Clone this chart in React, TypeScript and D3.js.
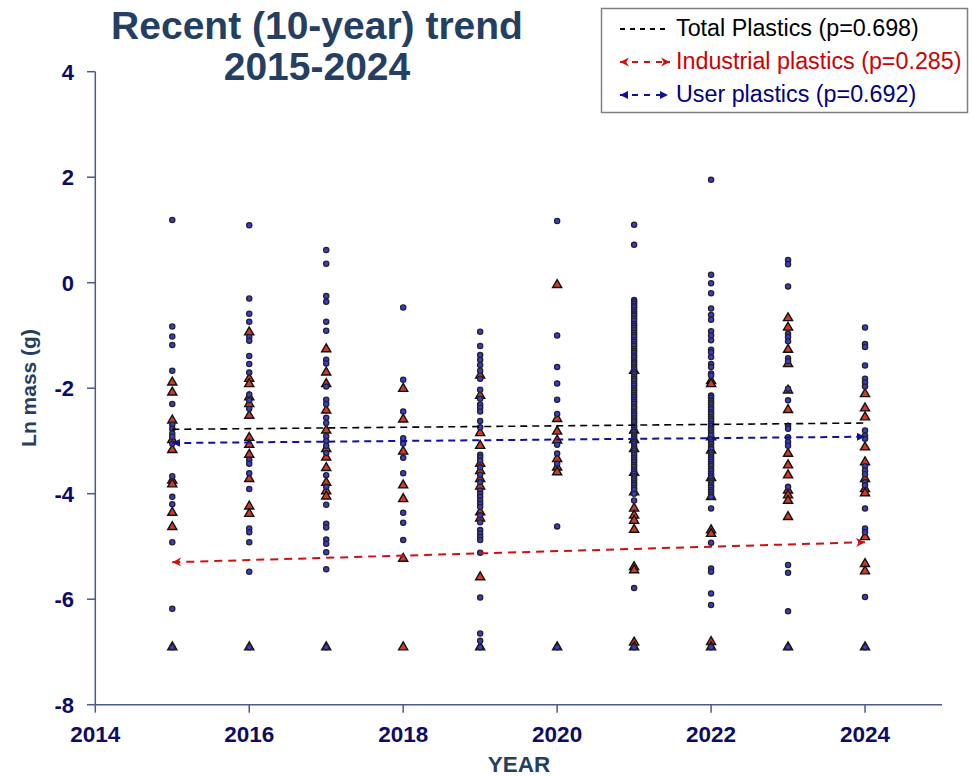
import React from "react";
import * as d3 from "d3";

const years = [2015, 2016, 2017, 2018, 2019, 2020, 2021, 2022, 2023, 2024];

const user2015 = [1.19, -0.83, -1.02, -1.18, -1.67, -2.3, -2.69, -2.77, -2.86, -2.92, -3.05, -3.67, -4.06, -4.2, -4.92, -6.18, -6.91];
const user2016 = [1.09, -0.3, -0.59, -0.74, -1.03, -1.1, -1.39, -1.54, -1.7, -2.12, -2.23, -2.39, -3.36, -3.43, -3.61, -3.91, -4.66, -4.73, -4.92, -5.48, -6.91];
const user2017 = [0.62, 0.36, -0.25, -0.36, -0.74, -0.91, -1.46, -1.53, -1.97, -2.22, -2.3, -2.56, -2.66, -2.91, -3.0, -3.09, -3.23, -3.65, -3.87, -4.21, -4.57, -4.64, -4.87, -4.95, -5.11, -5.43, -6.91];
const user2018 = [-0.47, -1.84, -2.44, -2.95, -3.05, -3.32, -3.61, -4.36, -4.55, -4.88];
const user2019 = [-0.93, -1.2, -1.37, -1.46, -1.56, -1.67, -1.82, -2.03, -2.2, -2.31, -2.37, -2.44, -2.62, -2.74, -3.26, -3.31, -3.37, -3.5, -3.64, -3.78, -3.94, -4.0, -4.06, -4.13, -4.19, -4.25, -4.41, -4.54, -4.69, -4.76, -4.82, -4.88, -5.12, -5.97, -6.65, -6.79, -6.91];
const user2020 = [1.17, -1.0, -1.6, -1.91, -2.22, -2.49, -3.07, -3.24, -3.43, -4.62, -6.91];
const user2021 = [1.1, 0.72, -0.33, -0.36, -0.4, -0.44, -0.47, -0.52, -0.56, -0.6, -0.63, -0.68, -0.72, -0.78, -0.82, -0.86, -0.9, -0.95, -0.99, -1.03, -1.08, -1.12, -1.16, -1.2, -1.25, -1.29, -1.33, -1.38, -1.42, -1.47, -1.51, -1.55, -1.6, -1.64, -1.69, -1.73, -1.78, -1.82, -1.86, -1.91, -1.95, -2.0, -2.04, -2.08, -2.13, -2.17, -2.22, -2.26, -2.3, -2.35, -2.39, -2.44, -2.48, -2.52, -2.57, -2.61, -2.65, -2.7, -2.74, -2.79, -2.83, -2.88, -2.92, -2.96, -3.01, -3.05, -3.1, -3.14, -3.18, -3.23, -3.27, -3.32, -3.36, -3.4, -3.45, -3.49, -3.54, -3.58, -3.62, -3.67, -3.71, -3.76, -3.8, -3.84, -3.89, -3.93, -4.0, -4.13, -5.79, -6.91];
const user2022 = [1.95, 0.15, -0.01, -0.2, -0.49, -0.61, -0.7, -0.92, -1.0, -1.09, -1.27, -1.32, -1.41, -1.54, -1.6, -1.72, -1.76, -2.14, -2.18, -2.23, -2.27, -2.31, -2.36, -2.4, -2.45, -2.49, -2.54, -2.58, -2.62, -2.67, -2.71, -2.76, -2.8, -2.85, -2.89, -2.97, -3.02, -3.06, -3.11, -3.15, -3.22, -3.26, -3.31, -3.35, -3.4, -3.44, -3.48, -3.53, -3.57, -3.62, -3.66, -3.7, -3.75, -3.79, -3.84, -3.88, -3.93, -3.97, -4.02, -4.06, -4.28, -4.93, -5.42, -5.48, -5.89, -6.11, -6.91];
const user2023 = [0.43, 0.35, -0.07, -0.97, -1.03, -1.11, -1.43, -1.49, -2.01, -2.23, -2.71, -2.77, -2.93, -3.02, -3.09, -3.87, -5.35, -5.5, -6.23, -6.91];
const user2024 = [-0.85, -1.16, -1.22, -1.57, -1.82, -1.89, -1.97, -2.8, -2.9, -2.96, -3.48, -3.56, -3.63, -3.78, -3.84, -4.28, -4.66, -4.73, -5.96, -6.91];

const ind2015 = [-1.89, -2.08, -2.61, -2.98, -3.17, -3.75, -3.82, -4.36, -4.63, -6.91];
const ind2016 = [-0.94, -1.82, -1.92, -2.17, -2.3, -2.52, -2.94, -3.07, -3.26, -3.72, -4.24, -4.38, -6.91];
const ind2017 = [-1.26, -1.7, -1.92, -2.42, -2.8, -3.15, -3.31, -3.51, -3.79, -3.95, -4.05, -6.91];
const ind2018 = [-2.01, -2.59, -3.2, -3.84, -4.1, -5.23, -6.91];
const ind2019 = [-1.76, -2.14, -2.85, -3.09, -3.43, -3.57, -3.72, -3.86, -4.35, -4.47, -5.58, -6.91];
const ind2020 = [-0.04, -2.58, -2.82, -2.99, -3.34, -3.5, -3.59, -6.91];
const ind2021 = [-1.67, -2.8, -2.98, -3.15, -3.6, -3.97, -4.28, -4.41, -4.51, -4.68, -5.39, -5.45, -6.82, -6.91];
const ind2022 = [-1.86, -1.92, -2.93, -3.18, -3.7, -4.06, -4.69, -4.76, -6.81, -6.91];
const ind2023 = [-0.67, -0.85, -1.27, -1.54, -2.04, -2.41, -3.24, -3.46, -3.65, -3.94, -4.03, -4.13, -4.44, -6.91];
const ind2024 = [-2.11, -2.38, -2.55, -3.12, -3.4, -3.72, -3.91, -3.99, -4.82, -5.33, -5.47, -6.91];

const userByYear = [user2015, user2016, user2017, user2018, user2019, user2020, user2021, user2022, user2023, user2024];
const indByYear = [ind2015, ind2016, ind2017, ind2018, ind2019, ind2020, ind2021, ind2022, ind2023, ind2024];

// trend endpoints (2015, 2024)
const trendYears = [2015, 2024];
const trendTotal = [-2.78, -2.66];
const trendUser = [-3.04, -2.92];
const trendIndustrial = [-5.3, -4.92];

const xTicks = [2014, 2016, 2018, 2020, 2022, 2024];
const yTicks = [-8, -6, -4, -2, 0, 2, 4];

const legendLabels = ["Total Plastics (p=0.698)", "Industrial plastics (p=0.285)", "User plastics (p=0.692)"];

const FONT = "'Liberation Sans', Arial, Helvetica, sans-serif";

export default function App() {
  const x = d3.scaleLinear().domain([2014, 2025]).range([95.3, 942]);
  const y = d3.scaleLinear().domain([-8, 4]).range([704.7, 71.7]);
  const axisColor = "#4a5b8a";
  const tickColor = "#0c0c64";
  const titleColor = "#253f62";

  const tri = d3.symbol().type(d3.symbolTriangle).size(36)();
  const line = d3.line<number>().x((_, i) => x(trendYears[i])).y((v) => y(v));

  const userPts: { yr: number; v: number }[] = [];
  const indPts: { yr: number; v: number }[] = [];
  years.forEach((yr, i) => {
    userByYear[i].forEach((v) => userPts.push({ yr, v }));
    indByYear[i].forEach((v) => indPts.push({ yr, v }));
  });

  return (
    <svg width={972} height={776} style={{ position: "absolute", left: 0, top: 0, background: "#fff" }} fontFamily={FONT}>
      <defs>
        <marker id="arrRed" viewBox="0 0 10 10" refX="10" refY="5" markerWidth="9" markerHeight="10" markerUnits="userSpaceOnUse" orient="auto-start-reverse">
          <path d="M0,0 L10,5 L0,10 L3,5 Z" fill="#d01010" />
        </marker>
        <marker id="arrBlue" viewBox="0 0 10 10" refX="10" refY="5" markerWidth="8" markerHeight="8" markerUnits="userSpaceOnUse" orient="auto-start-reverse">
          <path d="M0,0 L10,5 L0,10 Z" fill="#1010a0" />
        </marker>
      </defs>
      <rect x={0} y={0} width={972} height={776} fill="#fff" />

      {/* title */}
      <text x={317} y={39} textAnchor="middle" fontSize={39} fontWeight="bold" fill={titleColor}>Recent (10-year) trend</text>
      <text x={317} y={80} textAnchor="middle" fontSize={39} fontWeight="bold" fill={titleColor}>2015-2024</text>

      {/* axes */}
      <line x1={95.3} x2={95.3} y1={y(4)} y2={y(-8)} stroke={axisColor} strokeWidth={1.5} />
      <line x1={95.3} x2={942} y1={y(-8)} y2={y(-8)} stroke={axisColor} strokeWidth={1.5} />
      {yTicks.map((t) => (
        <g key={"y" + t}>
          <line x1={87} x2={95.3} y1={y(t)} y2={y(t)} stroke={axisColor} strokeWidth={1.5} />
          <text x={74} y={y(t)} dy="0.36em" textAnchor="end" fontSize={22} fontWeight="bold" fill={tickColor}>{t}</text>
        </g>
      ))}
      {xTicks.map((t) => (
        <g key={"x" + t}>
          <line x1={x(t)} x2={x(t)} y1={y(-8)} y2={y(-8) + 8} stroke={axisColor} strokeWidth={1.5} />
          <text x={x(t)} y={742} textAnchor="middle" fontSize={22.5} fontWeight="bold" fill={tickColor}>{t}</text>
        </g>
      ))}
      <text transform="translate(36,388) rotate(-90)" textAnchor="middle" fontSize={21} fontWeight="bold" fill={titleColor}>Ln mass (g)</text>
      <text x={519} y={772} textAnchor="middle" fontSize={22.5} fontWeight="bold" fill={titleColor}>YEAR</text>

      {/* points */}
      {indPts.map((p, i) => (
        <path key={"t" + i} d={tri} transform={`translate(${x(p.yr)},${y(p.v)})`} fill="#d03a2a" stroke="#111" strokeWidth={1.4} />
      ))}
      {userPts.map((p, i) => (
        <circle key={"c" + i} cx={x(p.yr)} cy={y(p.v)} r={2.6} fill="#3c3cc8" stroke="#22222e" strokeWidth={1.3} />
      ))}

      {/* trend lines */}
      <path d={line(trendTotal) || ""} fill="none" stroke="#000" strokeWidth={1.6} strokeDasharray="7,5" />
      <path d={line(trendUser) || ""} fill="none" stroke="#1010a0" strokeWidth={2} strokeDasharray="7,5" markerStart="url(#arrBlue)" markerEnd="url(#arrBlue)" />
      <path d={line(trendIndustrial) || ""} fill="none" stroke="#d01010" strokeWidth={2} strokeDasharray="8,6" markerStart="url(#arrRed)" markerEnd="url(#arrRed)" />

      {/* legend */}
      <rect x={601.5} y={8.5} width={366} height={104} fill="#fff" stroke="#808080" strokeWidth={1.5} />
      <line x1={620} x2={667} y1={29} y2={29} stroke="#000" strokeWidth={1.8} strokeDasharray="5,5" />
      <text x={676} y={36} fontSize={23.3} fill="#000">{legendLabels[0]}</text>
      <line x1={620} x2={670} y1={62} y2={62} stroke="#d01010" strokeWidth={2} strokeDasharray="6,6" markerStart="url(#arrRed)" markerEnd="url(#arrRed)" />
      <text x={676} y={69} fontSize={23.3} fill="#cc0000">{legendLabels[1]}</text>
      <line x1={620} x2={668} y1={95} y2={95} stroke="#1010a0" strokeWidth={2} strokeDasharray="6,6" markerStart="url(#arrBlue)" markerEnd="url(#arrBlue)" />
      <text x={676} y={102} fontSize={23.3} fill="#000080">{legendLabels[2]}</text>
    </svg>
  );
}
